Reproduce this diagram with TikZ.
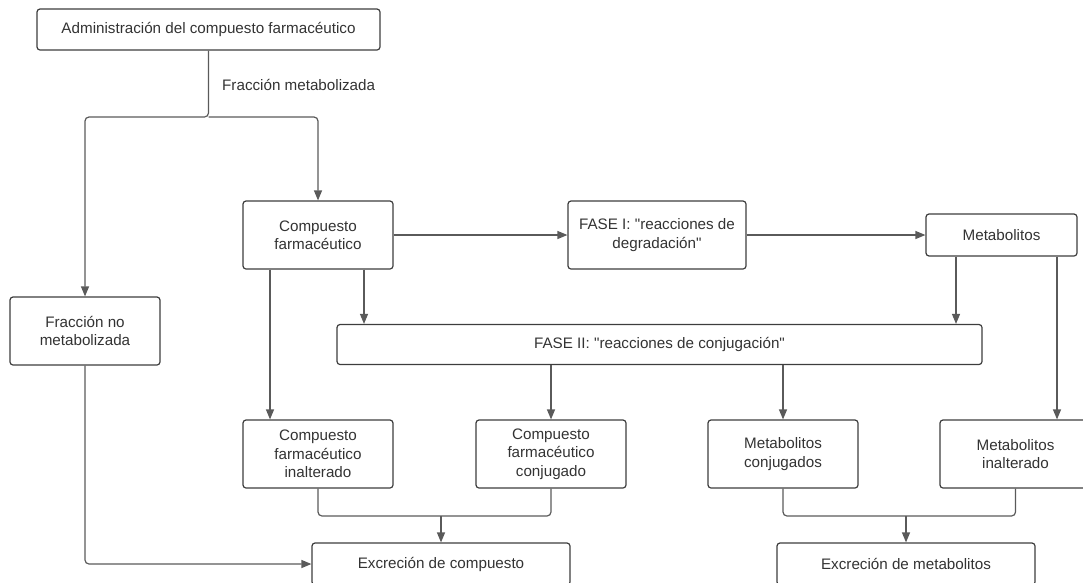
\documentclass[tikz,border=0pt]{standalone}
\usepackage{fontspec}
\setmainfont{Liberation Sans}[Ligatures=TeXOff]
\usetikzlibrary{arrows.meta,calc}
\definecolor{txt}{HTML}{333333}
\definecolor{edgec}{HTML}{3D3D3D}
\definecolor{connc}{HTML}{5A5A5A}
\tikzset{
 box/.style={draw=edgec, line width=1.2pt, rounded corners=3pt, text=txt, align=center, inner sep=0pt,
   font=\fontsize{15.2}{18.3}\selectfont, minimum height=68pt, minimum width=150pt},
 lnk/.style={draw=connc, line width=1.2pt, rounded corners=4pt},
 arr/.style={lnk, -{Triangle[length=10pt,width=8pt]}},
 lbl/.style={text=txt, font=\fontsize{15.2}{18.3}\selectfont, inner sep=0pt},
}
\begin{document}
\begin{tikzpicture}[x=1pt,y=-1pt]
\useasboundingbox (0,0) rectangle (1083,582);
\node[box, minimum width=343pt, minimum height=41pt] (adm) at (208.5,29.5) {Administración del compuesto farmacéutico};
\node[lbl, anchor=west] (fm) at (222,85) {Fracción metabolizada};
\node[box] (frac) at (85,331) {Fracción no\\metabolizada};
\node[box] (cf) at (318,235) {Compuesto\\farmacéutico};
\node[box, minimum width=178pt] (f1) at (657,235) {FASE I: "reacciones de\\degradación"};
\node[box, minimum width=151pt, minimum height=42pt] (met) at (1001.5,235) {Metabolitos};
\node[box, minimum width=645pt, minimum height=40pt] (f2) at (659.5,344.5) {FASE II: "reacciones de conjugación"};
\node[box] (cfi) at (318,454) {Compuesto\\farmacéutico\\inalterado};
\node[box] (cfc) at (551,454) {Compuesto\\farmacéutico\\conjugado};
\node[box] (mc) at (783,454) {Metabolitos\\conjugados};
\node[box, minimum width=151pt] (mi) at (1015.5,454) {Metabolitos\\inalterado};
\node[box, minimum width=258pt, minimum height=42pt] (exc) at (441,564) {Excreción de compuesto};
\node[box, minimum width=258pt, minimum height=42pt] (exm) at (906,564) {Excreción de metabolitos};

\coordinate (split) at (adm.south |- 0,117);
\draw[arr] (adm.south) -- (split) -| (frac.north);
\draw[arr] (split) -| (cf.north);
\draw[arr] (cf.east) -- (f1.west);
\draw[arr] (f1.east) -- (met.west);
\draw[arr] ($(cf.south)+(-48,0)$) coordinate (a1) -- (a1 |- cfi.north);
\draw[arr] ($(cf.south)+(46,0)$) coordinate (a2) -- (a2 |- f2.north);
\draw[arr] ($(met.south)+(-45.5,0)$) coordinate (a3) -- (a3 |- f2.north);
\draw[arr] ($(met.south)+(55.5,0)$) coordinate (a4) -- (a4 |- mi.north);
\draw[arr] (cfc.north |- f2.south) -- (cfc.north);
\draw[arr] (mc.north |- f2.south) -- (mc.north);
\coordinate (m1) at (exc.north |- 0,516);
\coordinate (m2) at (exm.north |- 0,516);
\draw[lnk] (cfi.south) |- (m1) -| (cfc.south);
\draw[arr] (m1) -- (exc.north);
\draw[lnk] (mc.south) |- (m2) -| (mi.south);
\draw[arr] (m2) -- (exm.north);
\draw[arr] (frac.south) |- (exc.west);
\end{tikzpicture}
\end{document}
